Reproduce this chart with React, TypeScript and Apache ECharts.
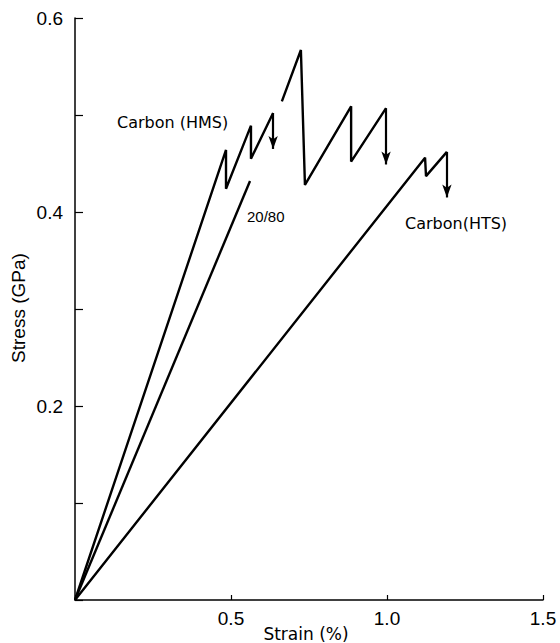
import React, { useEffect, useRef } from "react";
import * as echarts from "echarts";

// Carbon (HMS) curve
const hmsStrain = [0, 0.484, 0.484, 0.564, 0.564, 0.635];
const hmsStress = [0, 0.464, 0.424, 0.489, 0.455, 0.502];
const hmsArrowEnd = 0.465;

// 20/80 curve
const blendStrain = [0, 0.561];
const blendStress = [0, 0.432];

// middle (hybrid) zigzag
const hybridStrain = [0.663, 0.724, 0.737, 0.885, 0.885, 0.997];
const hybridStress = [0.514, 0.567, 0.428, 0.509, 0.452, 0.507];
const hybridArrowEnd = 0.449;

// Carbon (HTS) curve
const htsStrain = [0, 1.122, 1.125, 1.192];
const htsStress = [0, 0.456, 0.437, 0.462];
const htsArrowEnd = 0.415;

const xTicks = [0, 0.5, 1.0, 1.5];
const yTicks = [0, 0.1, 0.2, 0.3, 0.4, 0.5, 0.6];

const zip = (xs: number[], ys: number[]) => xs.map((x, i) => [x, ys[i]]);

const arrowLine = (x: number, y0: number, y1: number) => ({
  silent: true,
  symbol: ["none", "arrow"],
  symbolSize: [7, 13],
  label: { show: false },
  lineStyle: { color: "#000", width: 2.2, type: "solid" },
  data: [[{ coord: [x, y0] }, { coord: [x, y1] }]],
});

export default function App() {
  const ref = useRef<HTMLDivElement>(null);
  useEffect(() => {
    if (!ref.current) return;
    const chart = echarts.init(ref.current, null, { renderer: "svg" });
    const lineStyle = { color: "#000", width: 2.4 };
    const mk = (name: string, data: number[][], arrow?: any) => ({
      name,
      type: "line",
      data,
      symbol: "none",
      lineStyle,
      markLine: arrow,
    });
    chart.setOption({
      animation: false,
      backgroundColor: "#fff",
      grid: { left: 75, top: 18, right: 17, bottom: 43 },
      xAxis: {
        type: "value",
        min: xTicks[0],
        max: xTicks[xTicks.length - 1],
        interval: 0.5,
        splitLine: { show: false },
        axisLine: { lineStyle: { color: "#000", width: 1.5 } },
        axisTick: { inside: true, length: 5, lineStyle: { color: "#000", width: 1.2 } },
        axisLabel: {
          margin: 9,
          color: "#000",
          fontFamily: "Liberation Sans",
          fontSize: 19,
          formatter: (v: number) => (v === 0 ? "" : v.toFixed(1)),
        },
      },
      yAxis: {
        type: "value",
        min: yTicks[0],
        max: yTicks[yTicks.length - 1],
        interval: 0.1,
        splitLine: { show: false },
        axisLine: { lineStyle: { color: "#000", width: 1.5 } },
        axisTick: { inside: true, length: 8, lineStyle: { color: "#000", width: 1.2 } },
        axisLabel: {
          margin: 12,
          color: "#000",
          fontFamily: "Liberation Sans",
          fontSize: 19,
          formatter: (v: number) => {
            const k = Math.round(v * 10);
            return k === 0 || k % 2 === 1 ? "" : v.toFixed(1);
          },
        },
      },
      series: [
        mk("Carbon (HMS)", zip(hmsStrain, hmsStress), arrowLine(hmsStrain[hmsStrain.length - 1], hmsStress[hmsStress.length - 1], hmsArrowEnd)),
        mk("20/80", zip(blendStrain, blendStress)),
        mk("hybrid", zip(hybridStrain, hybridStress), arrowLine(hybridStrain[hybridStrain.length - 1], hybridStress[hybridStress.length - 1], hybridArrowEnd)),
        mk("Carbon (HTS)", zip(htsStrain, htsStress), arrowLine(htsStrain[htsStrain.length - 1], htsStress[htsStress.length - 1], htsArrowEnd)),
      ],
      graphic: [
        {
          type: "text",
          x: 18,
          y: 308,
          rotation: Math.PI / 2,
          style: {
            text: "Stress (GPa)",
            fill: "#000",
            font: '19px "Liberation Sans"',
            textAlign: "center",
            textVerticalAlign: "middle",
          },
        },
        {
          type: "text",
          x: 306,
          y: 634,
          style: {
            text: "Strain (%)",
            fill: "#000",
            font: '17px "DejaVu Sans"',
            textAlign: "center",
            textVerticalAlign: "middle",
          },
        },
        {
          type: "text",
          x: 117,
          y: 122,
          style: {
            text: "Carbon (HMS)",
            fill: "#000",
            font: '16px "DejaVu Sans"',
            textAlign: "left",
            textVerticalAlign: "middle",
          },
        },
        {
          type: "text",
          x: 247,
          y: 216,
          style: {
            text: "20/80",
            fill: "#000",
            font: '15px "Liberation Sans"',
            textAlign: "left",
            textVerticalAlign: "middle",
          },
        },
        {
          type: "text",
          x: 405,
          y: 223,
          style: {
            text: "Carbon(HTS)",
            fill: "#000",
            font: '16px "DejaVu Sans"',
            textAlign: "left",
            textVerticalAlign: "middle",
          },
        },
      ],
    });
    return () => chart.dispose();
  }, []);
  return <div ref={ref} style={{ width: 560, height: 643, position: "absolute", left: 0, top: 0 }} />;
}
